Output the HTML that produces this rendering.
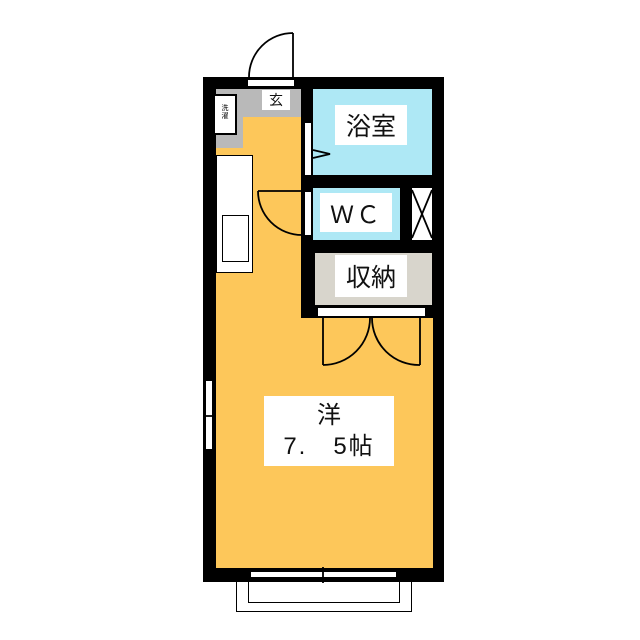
<!DOCTYPE html><html><head><style>
body{margin:0;width:640px;height:640px;background:#fff;position:relative;overflow:hidden;font-family:"Liberation Sans","Noto Sans CJK JP",sans-serif}
div{position:absolute;box-sizing:border-box}
.t{background:#fff;display:flex;align-items:center;justify-content:center;color:#111}
</style></head><body>
<div style="left:203px;top:77px;width:241px;height:505px;background:#000"></div>
<div style="left:216px;top:89px;width:217px;height:479px;background:#fdc75a"></div>
<div style="left:216px;top:89px;width:85px;height:28px;background:#b9b9b9"></div>
<div style="left:216px;top:89px;width:27px;height:59px;background:#b9b9b9"></div>
<div style="left:213px;top:94px;width:24px;height:41px;background:#fff;border:2px solid #000;font-size:7px;line-height:8px;text-align:center;padding-top:9px">洗<br>濯</div>
<div class="t" style="left:262px;top:90px;width:28px;height:20px;font-size:14px">玄</div>
<div style="left:301px;top:89px;width:142px;height:229px;background:#000"></div>
<div style="left:313px;top:89px;width:119px;height:86px;background:#aee8f5"></div>
<div style="left:313px;top:188px;width:87px;height:52px;background:#aee8f5"></div>
<div style="left:412px;top:188px;width:20px;height:52px;background:#fff"></div>
<div style="left:315px;top:253px;width:117px;height:52px;background:#d8d5cc"></div>
<div style="left:318px;top:308px;width:107px;height:8px;background:#fff"></div>
<div style="left:305px;top:123px;width:6px;height:52px;background:#fff"></div>
<div style="left:305px;top:192px;width:6px;height:43px;background:#fff"></div>
<div class="t" style="left:335px;top:105px;width:72px;height:40px;font-size:25px">浴室</div>
<div class="t" style="left:320px;top:193px;width:72px;height:39px;font-size:24px;letter-spacing:2px">ＷＣ</div>
<div class="t" style="left:335px;top:255px;width:72px;height:42px;font-size:25px">収納</div>
<div style="left:248px;top:80px;width:46px;height:6px;background:#fff"></div>
<div style="left:216px;top:155px;width:37px;height:118px;background:#fff;border:1.5px solid #000"></div>
<div style="left:222px;top:215px;width:27px;height:47px;background:#fff;border:1.5px solid #000"></div>
<div style="left:205px;top:380px;width:8px;height:70px;background:#fff;border:1px solid #000"></div>
<div style="left:250px;top:571px;width:147px;height:7px;background:#fff;border:1px solid #000"></div>
<div style="left:236px;top:582px;width:176px;height:30px;border:1.5px solid #000;border-top:none"></div>
<div style="left:248px;top:582px;width:152px;height:21px;border:1.5px solid #000;border-top:none"></div>
<div class="t" style="left:264px;top:396px;width:130px;height:70px;font-size:24px;flex-direction:column;line-height:31px"><span>洋</span><span style="letter-spacing:2px">7.　5帖</span></div>
<svg width="640" height="640" style="position:absolute;left:0;top:0" fill="none" stroke="#000" stroke-width="1.8">
<path d="M293 33 V80 M249 77 A44 44 0 0 1 293 33"/>
<path d="M258 191 H302 M258 191 A44 44 0 0 0 302 235"/>
<path d="M412 190 L432 238 M432 190 L412 238"/>
<path d="M313 150 L330 154 L313 158"/>
<path d="M323 318 V365 M370 318 A47 47 0 0 1 323 365 M420 318 V365 M372 318 A47 47 0 0 0 420 365"/>
<path d="M323 567 V583 M205 416 H215"/>
</svg>
</body></html>
